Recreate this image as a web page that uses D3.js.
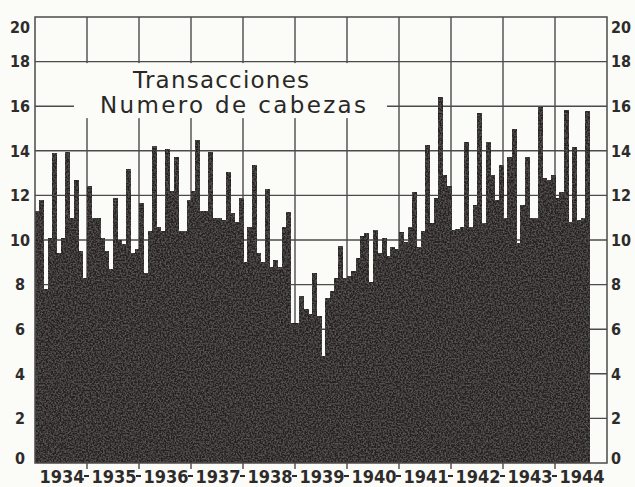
<!DOCTYPE html>
<html>
<head>
<meta charset="utf-8">
<title>Transacciones</title>
<style>
    body, html {
        margin: 0;
        padding: 0;
        background: #fbfbf8;
    }
    .tick-label {
        font-family: "DejaVu Sans Condensed", "DejaVu Sans", sans-serif;
        font-weight: bold;
        fill: #2e2c2a;
    }
    .title {
        font-family: "DejaVu Sans", sans-serif;
        font-size: 23px;
        fill: #2a2826;
    }
</style>
</head>
<body>
<div id="chart"></div>
<script src="https://d3js.org/d3.v7.min.js"></script>
<script>

    // monthly values, one array per year (1944 stops in August)
    var y1934 = [11.3, 11.8, 7.8, 10.1, 13.9, 9.4, 10.1, 13.95, 11.0, 12.7, 9.5, 8.3];
    var y1935 = [12.4, 11.0, 11.0, 10.1, 9.5, 8.7, 11.9, 10.0, 9.8, 13.2, 9.4, 9.6];
    var y1936 = [11.65, 8.5, 10.4, 14.2, 10.6, 10.4, 14.1, 12.2, 13.7, 10.4, 10.4, 11.8];
    var y1937 = [12.2, 14.5, 11.3, 11.3, 13.95, 11.0, 11.0, 10.9, 13.05, 11.2, 10.8, 11.9];
    var y1938 = [9.0, 10.6, 13.35, 9.4, 9.0, 12.3, 8.8, 9.1, 8.8, 10.6, 11.25, 6.3];
    var y1939 = [6.3, 7.5, 6.9, 6.7, 8.5, 6.6, 4.8, 7.4, 7.7, 8.3, 9.75, 8.3];
    var y1940 = [8.4, 8.6, 9.2, 10.2, 10.3, 8.1, 10.45, 9.4, 10.1, 9.3, 9.7, 9.6];
    var y1941 = [10.35, 9.9, 10.6, 12.15, 9.7, 10.4, 14.25, 10.75, 11.9, 16.4, 12.9, 12.4];
    var y1942 = [10.45, 10.5, 10.6, 14.4, 10.6, 11.55, 15.7, 10.75, 14.4, 12.9, 11.8, 13.35];
    var y1943 = [11.0, 13.7, 15.0, 9.85, 11.55, 13.7, 11.0, 11.0, 15.95, 12.8, 12.7, 12.9];
    var y1944 = [11.9, 12.15, 15.85, 10.8, 14.15, 10.9, 11.0, 15.8];

    var years = ['1934', '1935', '1936', '1937', '1938', '1939', '1940', '1941', '1942', '1943', '1944'];
    var yTicks = [0, 2, 4, 6, 8, 10, 12, 14, 16, 18, 20];
    var titleLines = ['Transacciones', 'Numero de cabezas'];

    var values = [].concat(y1934, y1935, y1936, y1937, y1938, y1939, y1940, y1941, y1942, y1943, y1944);

    var width = 635;
    var height = 487;
    var plotLeft = 35, plotRight = 607, plotTop = 17, plotBottom = 463;
    var lineColor = '#4d4b49';
    var paper = '#fbfbf8';

    var x = d3.scaleLinear()
        .domain([0, years.length * 12])
        .range([plotLeft, plotRight]);

    var y = d3.scaleLinear()
        .domain([0, 20])
        .range([plotBottom, plotTop]);

    var svg = d3.select('#chart')
        .append('svg')
        .attr('width', width)
        .attr('height', height);

    // light speckle on the dark mass, like the printed original
    var defs = svg.append('defs');
    var grain = defs.append('filter')
        .attr('id', 'grain')
        .attr('x', 0).attr('y', 0).attr('width', 1).attr('height', 1);
    grain.append('feTurbulence')
        .attr('type', 'fractalNoise')
        .attr('baseFrequency', 0.6)
        .attr('numOctaves', 2)
        .attr('seed', 3)
        .attr('result', 'noise');
    grain.append('feColorMatrix')
        .attr('in', 'noise')
        .attr('type', 'matrix')
        .attr('values', '0 0 0 0 0.36  0 0 0 0 0.34  0 0 0 0 0.33  0 0 0 0.6 -0.22')
        .attr('result', 'speck');
    grain.append('feComposite')
        .attr('in', 'speck')
        .attr('in2', 'SourceGraphic')
        .attr('operator', 'in')
        .attr('result', 'spots');
    var merge = grain.append('feMerge');
    merge.append('feMergeNode').attr('in', 'SourceGraphic');
    merge.append('feMergeNode').attr('in', 'spots');

    // horizontal grid
    svg.append('g')
        .selectAll('line')
        .data(yTicks.filter(function(d) { return d > 0 && d < 20; }))
        .enter()
        .append('line')
        .attr('x1', plotLeft)
        .attr('x2', plotRight)
        .attr('y1', function(d) { return y(d); })
        .attr('y2', function(d) { return y(d); })
        .attr('stroke', lineColor)
        .attr('stroke-width', 1.4);

    // vertical grid at year boundaries
    svg.append('g')
        .selectAll('line')
        .data(d3.range(1, years.length))
        .enter()
        .append('line')
        .attr('x1', function(d) { return x(d * 12); })
        .attr('x2', function(d) { return x(d * 12); })
        .attr('y1', plotTop)
        .attr('y2', plotBottom + 6)
        .attr('stroke', lineColor)
        .attr('stroke-width', 1.4);

    // blank box behind the title
    svg.append('rect')
        .attr('x', 74)
        .attr('y', y(18) + 1.5)
        .attr('width', 313)
        .attr('height', 55)
        .attr('fill', paper);

    svg.selectAll('.title')
        .data(titleLines)
        .enter()
        .append('text')
        .attr('class', 'title')
        .attr('x', function(d, i) { return i === 0 ? 221 : 233; })
        .attr('y', function(d, i) { return 88 + i * 25; })
        .attr('text-anchor', 'middle')
        .attr('textLength', function(d, i) { return i === 0 ? 176 : 266; })
        .attr('lengthAdjust', 'spacing')
        .text(function(d) { return d; });

    // bars
    svg.append('g')
        .attr('filter', 'url(#grain)')
        .selectAll('rect')
        .data(values)
        .enter()
        .append('rect')
        .attr('x', function(d, i) { return x(i); })
        .attr('y', function(d) { return y(d); })
        .attr('width', function(d, i) { return x(i + 1) - x(i) + 0.6; })
        .attr('height', function(d) { return y(0) - y(d); })
        .attr('shape-rendering', 'crispEdges')
        .attr('fill', '#272422');

    // frame
    svg.append('rect')
        .attr('x', plotLeft)
        .attr('y', plotTop)
        .attr('width', plotRight - plotLeft)
        .attr('height', plotBottom - plotTop)
        .attr('fill', 'none')
        .attr('stroke', lineColor)
        .attr('stroke-width', 1.5);

    // left and right value labels
    function labelY(d) {
        if (d === 20) return y(d) + 10;
        if (d === 0) return y(d) - 5;
        return y(d);
    }

    svg.append('g')
        .selectAll('text')
        .data(yTicks)
        .enter()
        .append('text')
        .attr('class', 'tick-label')
        .attr('x', 20)
        .attr('y', labelY)
        .attr('dy', '0.36em')
        .attr('text-anchor', 'middle')
        .style('font-size', '16px')
        .text(function(d) { return d; });

    svg.append('g')
        .selectAll('text')
        .data(yTicks)
        .enter()
        .append('text')
        .attr('class', 'tick-label')
        .attr('x', 611)
        .attr('y', labelY)
        .attr('dy', '0.36em')
        .attr('text-anchor', 'start')
        .style('font-size', '16px')
        .text(function(d) { return d; });

    // year labels with dashes between them
    svg.append('g')
        .selectAll('text')
        .data(years)
        .enter()
        .append('text')
        .attr('class', 'tick-label')
        .attr('x', function(d, i) { return x(i * 12 + 6) + 1; })
        .attr('y', 483)
        .attr('text-anchor', 'middle')
        .style('font-size', '18px')
        .text(function(d) { return d; });

    svg.append('g')
        .selectAll('line')
        .data(d3.range(1, years.length))
        .enter()
        .append('line')
        .attr('x1', function(d) { return x(d * 12) - 3; })
        .attr('x2', function(d) { return x(d * 12) + 2; })
        .attr('y1', 476)
        .attr('y2', 476)
        .attr('stroke', '#2e2c2a')
        .attr('stroke-width', 2);

</script>
</body>
</html>
